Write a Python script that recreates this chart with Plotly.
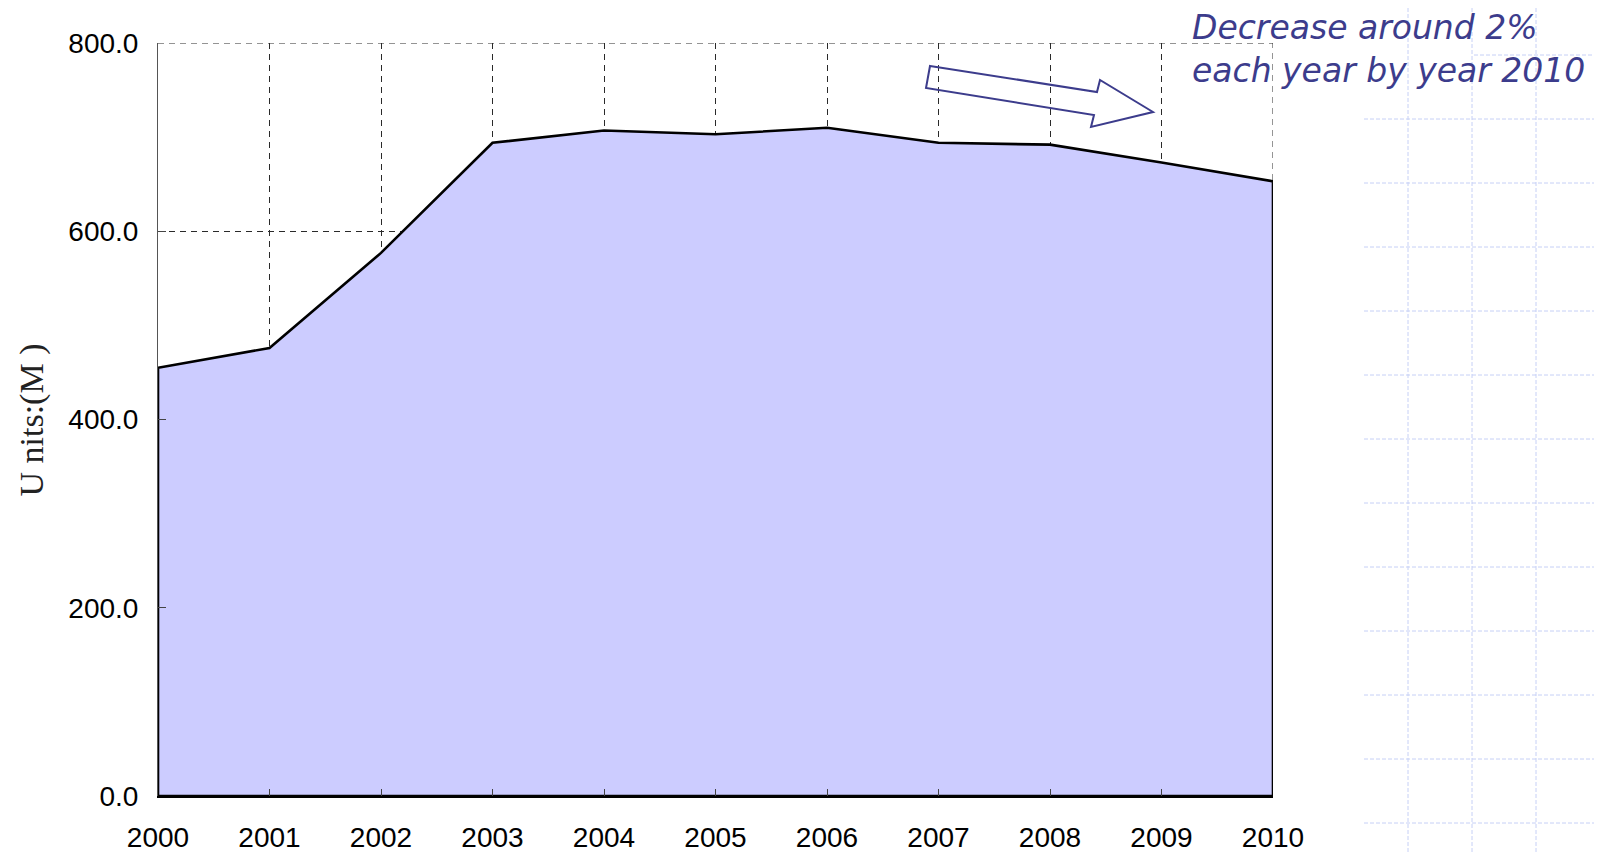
import plotly.graph_objects as go

# ---- data ----
years = [2000, 2001, 2002, 2003, 2004, 2005, 2006, 2007, 2008, 2009, 2010]
units = [455, 476, 577, 694, 707, 703, 710, 694, 692, 673, 653]
y_ticks = [0, 200, 400, 600, 800]
y_title = "U nits:(M )"
note_lines = ["Decrease around 2%", "each year by year 2010"]

# ---- geometry (page pixels; the page body has an 8px margin) ----
OFF = 8
PAGE_W, PAGE_H = 1602, 852
W, H = PAGE_W - OFF, PAGE_H - OFF
L, R, T, B = 158 - OFF, 1273 - OFF, 43 - OFF, 796 - OFF
ML, MR, MT, MB = L, W - R, T, H - B


def px(x):
    return (x - OFF - L) / (R - L)


def py(y):
    return (B - (y - OFF)) / (B - T)


ACCENT = "#3c3c8c"
GRID_COLOR = "#2a2a2a"
GRID = dict(color=GRID_COLOR, width=1, dash="6px,5px")

poly_x = [years[0]] + years + [years[-1], years[0]]
poly_y = [0] + units + [0, 0]

fig = go.Figure()
fig.add_trace(go.Scatter(
    x=poly_x, y=poly_y, mode="lines", fill="toself",
    fillcolor="#ccccff", line=dict(color="black", width=2.6),
    hoverinfo="skip", showlegend=False,
))

shapes = []
# gridlines at the range ends (plotly omits them)
shapes.append(dict(type="line", xref="x", yref="y", layer="below",
                   x0=years[0], x1=years[-1], y0=y_ticks[-1], y1=y_ticks[-1], line=GRID))
shapes.append(dict(type="line", xref="x", yref="y", layer="below",
                   x0=years[-1], x1=years[-1], y0=y_ticks[0], y1=y_ticks[-1], line=GRID))

# slide background grid on the right
BG = dict(color="#c6d0f6", width=1, dash="4px,2px")
for gx in [1408, 1472, 1536, 1600]:
    shapes.append(dict(type="line", xref="paper", yref="paper",
                       x0=px(gx), x1=px(gx), y0=py(OFF), y1=py(PAGE_H), line=BG))
for k in range(13):
    gy = 55 + 64 * k
    x_start = 1474 if k == 0 else 1364
    shapes.append(dict(type="line", xref="paper", yref="paper",
                       x0=px(x_start), x1=px(PAGE_W), y0=py(gy), y1=py(gy), line=BG))
shapes.append(dict(type="rect", xref="paper", yref="paper",
                   x0=px(1599), x1=px(1602), y0=py(OFF), y1=py(102),
                   line=dict(width=0), fillcolor="#7086ee"))

# block arrow
arrow_pts = [(930, 66), (1097, 92), (1100, 80), (1153, 112),
             (1091, 127), (1094, 115), (926, 88)]
path = "M " + " L ".join(f"{px(a):.5f},{py(b):.5f}" for a, b in arrow_pts) + " Z"
shapes.append(dict(type="path", xref="paper", yref="paper", path=path,
                   line=dict(color=ACCENT, width=2), fillcolor="rgba(0,0,0,0)",
                   layer="above"))

fig.update_layout(
    width=W, height=H,
    margin=dict(l=ML, r=MR, t=MT, b=MB, pad=0, autoexpand=False),
    paper_bgcolor="white", plot_bgcolor="white",
    shapes=shapes,
    font=dict(family="Liberation Sans, Arial, sans-serif", size=28, color="black"),
    annotations=[
        dict(text=y_title, xref="paper", yref="paper", x=px(31), y=0.5,
             textangle=-90, showarrow=False, xanchor="center", yanchor="middle",
             font=dict(family="Liberation Serif, serif", size=34, color="#222")),
        dict(text="<br>".join(note_lines), xref="paper", yref="paper",
             x=px(1190), y=py(6), xanchor="left", yanchor="top", align="left",
             showarrow=False,
             font=dict(family="DejaVu Sans", size=33, color=ACCENT, style="italic")),
    ],
)

fig.update_xaxes(
    range=[years[0], years[-1]], tickmode="array", tickvals=years,
    ticktext=[str(y) for y in years],
    ticks="inside", ticklen=7, tickcolor="#444", tickwidth=1,
    showline=True, linecolor="black", linewidth=2,
    showgrid=True, gridcolor=GRID_COLOR, gridwidth=1, griddash="6px,5px",
    zeroline=False, ticklabelstandoff=15, automargin=False,
)
fig.update_yaxes(
    range=[y_ticks[0], y_ticks[-1]], tickmode="array", tickvals=y_ticks,
    ticktext=[f"{v:.1f}" for v in y_ticks],
    ticks="inside", ticklen=8, tickcolor="#444", tickwidth=1,
    showline=True, linecolor="#555", linewidth=1,
    showgrid=True, gridcolor=GRID_COLOR, gridwidth=1, griddash="6px,5px",
    zeroline=False, ticklabelstandoff=13, automargin=False,
)

fig.write_html("out.html")
